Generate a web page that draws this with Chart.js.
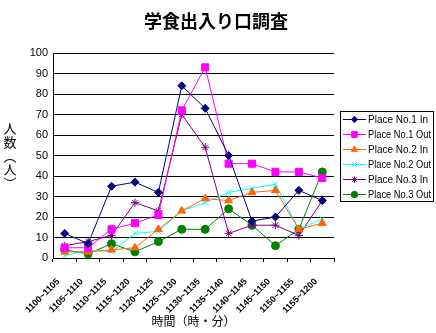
<!DOCTYPE html>
<html><head><meta charset="utf-8">
<script src="https://cdn.jsdelivr.net/npm/chart.js@4/dist/chart.umd.min.js"></script>
<style>html,body{margin:0;padding:0;background:#fff}#wrap{width:436px;height:333px}</style>
</head><body><div id="wrap"><canvas id="c" width="436" height="333"></canvas></div>
<script>
const categories = ["1100~1105","1105~1110","1110~1115","1115~1120","1120~1125","1125~1130","1130~1135","1135~1140","1140~1145","1145~1150","1150~1155","1155~1200"];
const place1In  = [12, 7, 35, 37, 32, 84, 73, 50, 18, 20, 33, 28];
const place1Out = [5, 5, 14, 17, 21, 72, 93, 46, 46, 42, 42, 39];
const place2In  = [3, 3, 4, 5, 14, 23, 29, 28, 32, 33, 14, 17];
const place2Out = [1, 4, 3, 12, 13, 23, 27, 32, 34, 36, 14, 19];
const place3In  = [6, 8, 11, 27, 23, 70, 54, 12, 16, 16, 11, 28];
const place3Out = [4, 2, 7, 3, 8, 14, 14, 24, 16, 6, 14, 42];
const seriesNames = ["Place No.1 In","Place No.1 Out","Place No.2 In","Place No.2 Out","Place No.3 In","Place No.3 Out"];
const yTicks = [0,10,20,30,40,50,60,70,80,90,100];
const titleText = "学食出入り口調査";
const yTitleChars = ["人","数","︵","人","︶"];
const xTitleText = "時間（時・分）";

const styles = [
  {c:"#000080", p:"rectRot", r:4},
  {c:"#FF00FF", p:"rect", r:5},
  {c:"#FF6600", p:"triangle", r:4.5},
  {c:"#00FFFF", p:"crossRot", r:4},
  {c:"#800080", p:"star", r:4},
  {c:"#008000", p:"circle", r:4}
];
const values = [place1In, place1Out, place2In, place2Out, place3In, place3Out];
const datasets = values.map((v,i)=>({
  label: seriesNames[i], data: v,
  borderColor: styles[i].c, backgroundColor: styles[i].c,
  pointStyle: styles[i].p, pointRadius: styles[i].r,
  pointBorderColor: styles[i].c, pointBackgroundColor: styles[i].c,
  borderWidth: 1, pointBorderWidth: 1, tension: 0
}));

const extras = {
  id: 'extras',
  afterDraw(chart){
    const ctx = chart.ctx;
    ctx.save();
    ctx.fillStyle = '#000';
    ctx.textAlign = 'center'; ctx.textBaseline = 'middle';
    ctx.font = 'bold 18px "Noto Sans CJK JP"';
    ctx.fillText(titleText, 216, 21);
    ctx.font = '13px "Noto Sans CJK JP"';
    const ys = [128,142,156,169,183];
    yTitleChars.forEach((ch,i)=>ctx.fillText(ch, 10, ys[i]));
    ctx.font = '12px "Noto Sans CJK JP"';
    const ca = chart.chartArea;
    ctx.fillText(xTitleText, (ca.left+ca.right)/2, 321);
    // legend
    const lx = 340, ly = 111, lw = 93, lh = 90;
    ctx.fillStyle = '#fff';
    ctx.fillRect(lx, ly, lw, lh);
    ctx.strokeStyle = '#000'; ctx.lineWidth = 1;
    ctx.strokeRect(lx+0.5, ly+0.5, lw, lh);
    ctx.textAlign = 'left';
    chart.data.datasets.forEach((ds,i)=>{
      const y = 119 + i*15;
      ctx.strokeStyle = ds.borderColor; ctx.fillStyle = ds.borderColor; ctx.lineWidth = 1;
      ctx.beginPath(); ctx.moveTo(343, y+0.5); ctx.lineTo(366, y+0.5); ctx.stroke();
      Chart.helpers.drawPoint(ctx, {pointStyle: ds.pointStyle, radius: ds.pointRadius*0.8, borderWidth:1, rotation:0}, 354.5, y+0.5);
      ctx.fillStyle = '#000';
      ctx.font = '10px "Liberation Sans"';
      ctx.fillText(ds.label, 368, y+1, 63);
    });
    ctx.restore();
  }
};

new Chart(document.getElementById('c'), {
  type: 'line',
  data: { labels: categories, datasets },
  options: {
    responsive: false, animation: false,
    devicePixelRatio: 1,
    layout: { padding: { top: 53, right: 102, left: 0, bottom: 0 } },
    plugins: { legend: { display: false }, title: { display: false }, tooltip: { enabled: false } },
    scales: {
      y: {
        min: 0, max: 100,
        afterFit(s){ s.width = 53; },
        afterBuildTicks(s){ s.ticks = yTicks.map(v=>({value:v})); },
        ticks: { color: '#000', font: { family: 'Liberation Sans', size: 11 }, padding: 5 },
        grid: { color: '#000', lineWidth: 1, drawTicks: false },
        border: { color: '#000', width: 1 }
      },
      x: {
        afterFit(s){ s.height = 75; },
        offset: true,
        ticks: { color: '#000', font: { family: 'Liberation Sans', size: 9, weight: 'bold' }, maxRotation: 45, minRotation: 45, autoSkip: false, padding: 8,
          callback(v){ return categories[v] + '\u2002\u2002'; } },
        grid: { offset: true, drawOnChartArea: false, drawTicks: true, tickLength: 4, color: '#000' },
        border: { color: '#000', width: 1 }
      }
    }
  },
  plugins: [extras]
});
</script></body></html>
